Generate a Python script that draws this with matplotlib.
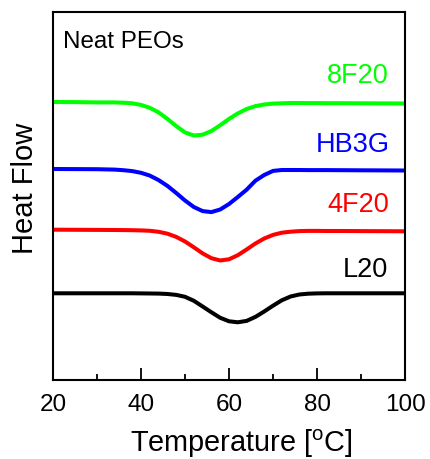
import matplotlib
matplotlib.use("Agg")
import matplotlib.pyplot as plt

plt.rcParams["font.family"] = ["Liberation Sans", "DejaVu Sans"]
plt.rcParams["mathtext.default"] = "regular"

# temperature grid (deg C) shared by all curves
temp = [20, 25, 30, 34, 36, 38, 40, 42, 44, 46, 48, 50, 52, 54, 56, 58, 60,
        62, 64, 66, 68, 70, 72, 74, 76, 78, 80, 82, 86, 90, 95, 100]

# heat flow, arbitrary units (stacked, endo down)
l20 = [87.2, 87.2, 87.2, 87.2, 87.2, 87.2, 87.1, 87.0, 86.9, 86.5, 85.6, 83.7,
       79.7, 74.0, 68.2, 62.7, 59.2, 58.2, 59.6, 63.6, 69.0, 74.8, 80.2, 84.0,
       86.0, 86.8, 87.1, 87.2, 87.2, 87.2, 87.2, 87.2]
f4f20 = [150.8, 150.7, 150.6, 150.5, 150.4, 150.3, 150.1, 149.7, 148.7, 146.8,
         143.6, 139.0, 133.2, 127.1, 122.3, 120.0, 121.2, 125.3, 131.0, 137.0,
         142.0, 145.6, 147.8, 148.8, 149.4, 149.6, 149.6, 149.5, 149.5, 149.4,
         149.3, 149.2]
hb3g = [211.5, 211.4, 211.3, 210.9, 210.3, 209.4, 207.7, 204.9, 200.4, 194.6,
        187.5, 180.0, 173.5, 169.4, 168.4, 171.0, 176.5, 183.5, 190.8, 199.8,
        205.5, 209.6, 210.5, 210.5, 210.5, 210.4, 210.4, 210.4, 210.3, 210.2,
        210.1, 210.0]
f8f20 = [278.5, 278.4, 278.1, 278.1, 277.8, 277.2, 275.6, 272.7, 268.1, 261.6,
         254.4, 248.1, 245.0, 245.8, 249.5, 255.3, 261.6, 267.1, 271.5, 274.4,
         276.0, 276.9, 277.2, 277.5, 277.5, 277.4, 277.4, 277.3, 277.3, 277.2,
         277.1, 277.0]

series = [("L20", l20, "black", 0.951, 0.283),
          ("4F20", f4f20, "#ff0000", 0.955, 0.461),
          ("HB3G", hb3g, "#0000ff", 0.956, 0.624),
          ("8F20", f8f20, "#00ff00", 0.954, 0.809)]

fig = plt.figure(figsize=(4.3, 4.6), dpi=100)
ax = fig.add_axes([0.1233, 0.1707, 0.8186, 0.801])

for name, vals, col, tx, ty in series:
    ax.plot(temp, vals, color=col, lw=2.9, solid_capstyle="butt")
    ax.text(tx, ty, name, color=col, fontsize=19.5, ha="right", va="baseline",
            transform=ax.transAxes)

ax.text(0.028, 0.904, "Neat PEOs", fontsize=17.4, ha="left", va="baseline",
        transform=ax.transAxes)

ax.set_xlim(20, 100)
ax.set_ylim(0, 368.5)
ax.set_xticks([20, 40, 60, 80, 100])
ax.set_xticks([30, 50, 70, 90], minor=True)
ax.set_yticks([])
ax.tick_params(axis="x", which="major", direction="in", length=8.3, width=1.3,
               labelsize=17.5, pad=9)
ax.tick_params(axis="x", which="minor", direction="in", length=4.3, width=1.3)
for s in ax.spines.values():
    s.set_linewidth(1.5)

ax.set_xlabel("Temperature [$^{o}$C]", fontsize=20.8)
ax.xaxis.set_label_coords(0.535, -0.125)
ax.set_ylabel("Heat Flow", fontsize=21)
ax.yaxis.set_label_coords(-0.04, 0.524)

fig.savefig("out.png", dpi=100)
